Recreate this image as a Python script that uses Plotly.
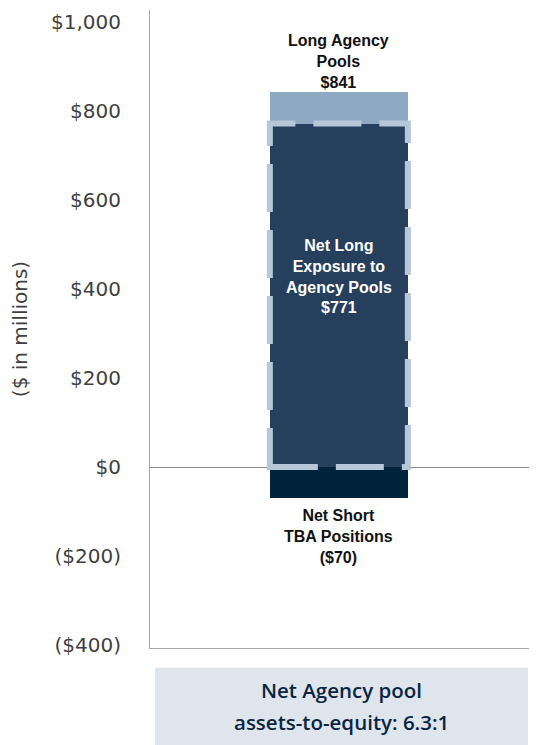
import plotly.graph_objects as go

# ---- data ----
category = ["Agency"]
long_agency_pools = [841]
net_long_exposure = [771]
net_short_tba = [-70]
tick_values = [1000, 800, 600, 400, 200, 0, -200, -400]
tick_labels = ["$1,000", "$800", "$600", "$400", "$200", "$0", "($200)", "($400)"]
box_lines = ["Net Agency pool", "assets-to-equity: 6.3:1"]

x_pos = [0]
bar_w = 0.3566

LIGHT = "#8FA9C4"
DARK = "#263F5C"
NAVY = "#01243B"
DASH = "#B7C7DA"
BOXFILL = "#DEE5ED"
TXT = "#3F3F3F"

fig = go.Figure()
fig.add_trace(go.Bar(x=x_pos, y=long_agency_pools, width=bar_w, marker=dict(color=LIGHT, line=dict(width=0)),
                     hoverinfo="skip", showlegend=False))
fig.add_trace(go.Bar(x=x_pos, y=net_long_exposure, width=bar_w, marker=dict(color=DARK, line=dict(width=0)),
                     hoverinfo="skip", showlegend=False))
fig.add_trace(go.Bar(x=x_pos, y=net_short_tba, width=bar_w, marker=dict(color=NAVY, line=dict(width=0)),
                     hoverinfo="skip", showlegend=False))

# dashed outline around the net long bar
fig.add_shape(type="rect", xref="x", yref="y",
              x0=x_pos[0] - bar_w / 2, x1=x_pos[0] + bar_w / 2, y0=0, y1=net_long_exposure[0],
              line=dict(color=DASH, width=6, dash="48px,18px"), fillcolor="rgba(0,0,0,0)")

lab_font = dict(family="Liberation Sans", size=16, color="#111111")
fig.add_annotation(x=x_pos[0], y=long_agency_pools[0], yanchor="bottom", yshift=-1, showarrow=False,
                   text="<b>Long Agency<br>Pools<br>$%d</b>" % long_agency_pools[0], font=lab_font)
fig.add_annotation(x=x_pos[0], y=427, yanchor="middle", showarrow=False,
                   text="<b>Net Long<br>Exposure to<br>Agency Pools<br>$%d</b>" % net_long_exposure[0],
                   font=dict(family="Liberation Sans", size=16, color="white"))
fig.add_annotation(x=x_pos[0], y=net_short_tba[0], yanchor="top", yshift=-7, showarrow=False,
                   text="<b>Net Short<br>TBA Positions<br>($%d)</b>" % abs(net_short_tba[0]), font=lab_font)

# bottom box
box_font = dict(family="Open Sans", size=20.5, color="#0B2540", weight=600)
fig.add_shape(type="rect", xref="paper", yref="paper", x0=0.013, x1=0.977, y0=-0.152, y1=-0.031,
              line=dict(width=0), fillcolor=BOXFILL, layer="below")
fig.add_annotation(xref="paper", yref="paper", x=0.495, y=-0.066, yanchor="middle", showarrow=False,
                   text=box_lines[0], font=box_font)
fig.add_annotation(xref="paper", yref="paper", x=0.495, y=-0.116, yanchor="middle", showarrow=False,
                   text=box_lines[1], font=box_font)

# page body has an 8px margin, so the figure is sized/offset to compensate
fig.update_layout(
    width=529, height=737,
    margin=dict(l=142, r=0, t=2, b=97, autoexpand=False),
    paper_bgcolor="white", plot_bgcolor="white",
    barmode="overlay",
    bargap=0,
    xaxis=dict(range=[-0.488, 0.512], showticklabels=False, showgrid=False, zeroline=False,
               showline=True, linecolor="#A6A6A6", linewidth=1, ticks="", automargin=False),
    yaxis=dict(range=[-406, 1026], tickvals=tick_values, ticktext=tick_labels,
               tickfont=dict(family="DejaVu Sans", size=20, color=TXT),
               showgrid=False, showline=True, linecolor="#A6A6A6", linewidth=1,
               zeroline=True, zerolinecolor="#8C8C8C", zerolinewidth=1,
               ticks="", ticklabelstandoff=24, layer="above traces", automargin=False,
               title=dict(text="($ in millions)", font=dict(family="DejaVu Sans", size=20, color=TXT),
                          standoff=20)),
    font=dict(family="DejaVu Sans"),
)

fig.write_html("out.html")
